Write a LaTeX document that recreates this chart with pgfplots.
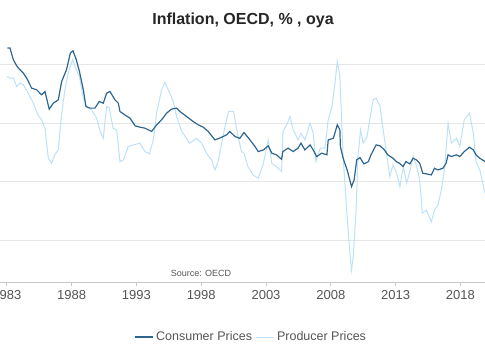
\documentclass[border=0pt]{standalone}
\usepackage{pgfplots}
\pgfplotsset{compat=1.18}
\usepackage{fontspec}
\setmainfont{Liberation Sans}
\definecolor{cpi}{HTML}{2E6690}
\definecolor{ppi}{HTML}{BDE1F8}
\definecolor{gridc}{HTML}{E6E6E6}
\definecolor{axc}{HTML}{C8C8C8}
\definecolor{txt}{HTML}{555555}
\begin{document}
\begin{tikzpicture}
\begin{axis}[
  at={(0pt,78pt)}, anchor=south west,
  scale only axis, width=485pt, height=247pt,
  xmin=1982.47, xmax=2019.9, ymin=-8.6, ymax=12.55,
  axis x line*=bottom, axis y line*=left,
  y axis line style={draw=none},
  x axis line style={draw=axc, line width=0.8pt},
  ytick={-5,0,5,10}, yticklabels={}, ytick style={draw=none},
  ymajorgrids, grid style={draw=gridc, line width=0.8pt},
  xtick={1983,1988,1993,1998,2003,2008,2013,2018},
  xticklabel style={/pgf/number format/1000 sep={}, /pgf/number format/assume math mode=true, font=\fontsize{13}{15}\selectfont, text=txt, yshift=-1pt},
  xtick style={draw=axc, line width=0.8pt},
  tick align=outside, major tick length=4pt,
  legend columns=2,
  legend style={at={(0.5175,-0.2227)}, anchor=center, draw=none, fill=none, font=\fontsize{12.5}{15}\selectfont, text=txt, column sep=1pt, /tikz/every odd column/.append style={column sep=1pt}},
  legend image code/.code={\draw[#1] (0pt,0pt) -- (18pt,0pt);},
]
\addlegendimage{cpi, line width=1.2pt}
\addlegendentry{Consumer Prices}
\addlegendimage{ppi, line width=1pt}
\addlegendentry{Producer Prices}
\addplot[ppi, line width=1pt, forget plot] coordinates {
(1983.0,9.0) (1983.24,8.86) (1983.5,8.86) (1983.76,8.14) (1984.0,8.43) (1984.27,8.29) (1984.65,7.57) (1985.04,6.71) (1985.4,5.71) (1985.68,5.29) (1985.94,4.57) (1986.2,2.0) (1986.45,1.57) (1986.7,2.29) (1986.97,2.71) (1987.2,5.57) (1987.48,7.86) (1987.74,9.29) (1988.07,10.43) (1988.3,9.71) (1988.6,9.0) (1988.9,7.14) (1989.16,6.43) (1989.54,6.14) (1989.93,5.43) (1990.2,4.29) (1990.44,3.71) (1990.7,6.43) (1990.9,6.29) (1991.2,4.57) (1991.47,4.43) (1991.73,1.71) (1992.0,1.86) (1992.37,3.0) (1992.75,3.14) (1993.27,3.29) (1993.66,2.57) (1994.0,2.37) (1994.3,3.57) (1994.56,5.86) (1994.94,7.86) (1995.2,8.49) (1995.45,7.86) (1995.84,6.86) (1996.1,5.57) (1996.49,4.29) (1996.87,3.71) (1997.1,3.29) (1997.64,3.71) (1998.03,3.29) (1998.4,2.43) (1998.8,1.86) (1999.06,1.0) (1999.3,1.71) (1999.7,4.0) (2000.1,6.0) (2000.5,6.0) (2000.74,4.43) (2001.1,2.57) (2001.3,2.43) (2001.6,1.29) (2002.0,0.57) (2002.4,0.29) (2002.8,1.57) (2003.17,3.57) (2003.45,1.57) (2003.8,1.29) (2004.2,0.86) (2004.3,4.29) (2004.6,4.86) (2004.85,5.57) (2005.1,4.43) (2005.47,3.57) (2005.7,4.14) (2006.0,3.57) (2006.4,5.0) (2006.64,4.14) (2006.85,1.71) (2007.2,2.86) (2007.55,2.86) (2007.8,5.29) (2008.1,6.43) (2008.35,8.71) (2008.5,10.29) (2008.7,9.0) (2008.95,2.14) (2009.26,-3.0) (2009.47,-6.14) (2009.6,-7.57) (2009.73,-6.43) (2009.94,-2.71) (2010.1,2.14) (2010.3,4.43) (2010.5,3.29) (2010.8,3.86) (2011.0,5.29) (2011.27,7.0) (2011.5,7.14) (2011.8,6.43) (2012.04,4.43) (2012.3,2.43) (2012.56,0.43) (2012.8,1.43) (2013.08,0.71) (2013.33,-0.43) (2013.6,1.29) (2013.85,-0.14) (2014.1,0.86) (2014.35,2.14) (2014.6,1.43) (2014.86,0.14) (2015.06,-2.71) (2015.37,-2.43) (2015.76,-3.43) (2016.0,-2.43) (2016.27,-2.0) (2016.53,-0.71) (2016.8,1.29) (2017.05,5.0) (2017.3,3.29) (2017.7,3.71) (2017.95,3.0) (2018.3,5.29) (2018.7,5.86) (2019.0,4.14) (2019.2,1.71) (2019.5,1.0) (2019.9,-1.0)
};
\addplot[cpi, line width=1.2pt, forget plot] coordinates {
(1983.03,11.43) (1983.24,11.43) (1983.5,10.43) (1983.76,9.91) (1984.01,9.57) (1984.27,9.29) (1984.53,8.86) (1984.91,8.0) (1985.3,7.86) (1985.68,7.43) (1985.94,7.71) (1986.27,6.2) (1986.58,6.71) (1986.97,7.0) (1987.23,8.57) (1987.6,9.57) (1987.9,11.0) (1988.1,11.2) (1988.36,10.43) (1988.6,9.43) (1988.9,7.86) (1989.1,6.43) (1989.4,6.29) (1989.8,6.29) (1990.13,6.86) (1990.44,6.71) (1990.7,7.57) (1990.96,7.71) (1991.34,7.0) (1991.6,6.71) (1991.73,6.0) (1992.1,5.71) (1992.5,5.43) (1992.9,4.77) (1993.27,4.66) (1993.66,4.57) (1994.17,4.29) (1994.56,4.86) (1994.94,5.29) (1995.33,5.86) (1995.7,6.2) (1996.1,6.29) (1996.36,6.0) (1996.87,5.57) (1997.38,5.14) (1997.77,4.86) (1998.15,4.66) (1998.54,4.29) (1999.06,3.57) (1999.4,3.71) (1999.96,4.0) (2000.2,4.29) (2000.6,3.86) (2000.98,3.7) (2001.3,4.2) (2001.76,3.57) (2002.15,3.0) (2002.4,2.57) (2002.8,2.71) (2003.17,3.06) (2003.45,2.43) (2003.8,2.29) (2004.2,1.91) (2004.3,2.57) (2004.7,2.86) (2005.1,2.57) (2005.47,2.86) (2005.7,3.29) (2006.0,2.71) (2006.4,3.14) (2006.64,2.71) (2006.9,2.14) (2007.3,2.43) (2007.7,2.29) (2007.8,3.57) (2008.2,3.71) (2008.5,4.86) (2008.7,4.43) (2008.74,3.0) (2008.95,2.0) (2009.26,1.0) (2009.6,-0.43) (2009.8,0.14) (2010.0,1.86) (2010.25,2.05) (2010.56,1.51) (2010.9,1.71) (2011.1,2.29) (2011.5,3.14) (2011.8,3.06) (2012.14,2.71) (2012.4,2.29) (2012.8,2.0) (2013.05,1.71) (2013.3,1.57) (2013.57,1.29) (2013.8,1.71) (2014.1,1.51) (2014.35,2.0) (2014.6,1.86) (2014.86,1.57) (2015.1,0.71) (2015.37,0.66) (2015.76,0.57) (2016.0,1.14) (2016.27,1.0) (2016.65,1.14) (2016.9,1.57) (2017.05,2.29) (2017.3,2.14) (2017.7,2.29) (2017.95,2.14) (2018.3,2.57) (2018.7,2.94) (2019.0,2.71) (2019.2,2.29) (2019.5,2.0) (2019.9,1.71)
};
\node[font=\fontsize{9}{10}\selectfont, text=txt] at (axis cs:1997.98,-7.84) {Source: OECD};
\end{axis}
\node[font=\fontsize{16}{18}\selectfont\bfseries, text=black!85] at (243pt,340pt) {Inflation, OECD, \% , oya};
\pgfresetboundingbox
\path[use as bounding box] (0pt,0pt) rectangle (485pt,360pt);
\end{tikzpicture}
\end{document}
